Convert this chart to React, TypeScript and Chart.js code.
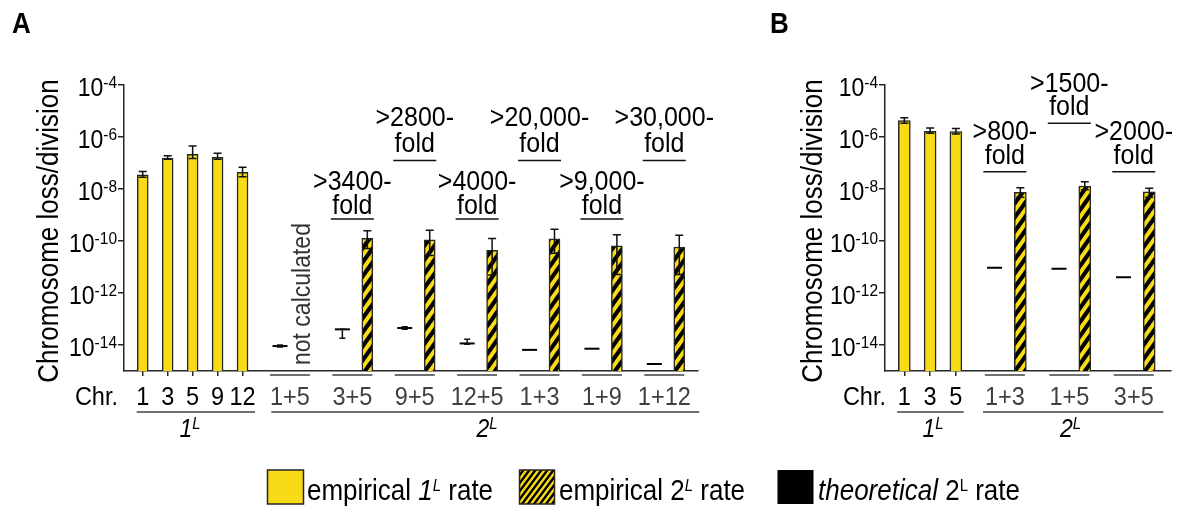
import React, { useEffect, useRef } from 'react';
import { Chart, registerables } from 'chart.js';
Chart.register(...registerables);

const FONT = '"Liberation Sans", Arial, Helvetica, sans-serif';
const YELLOW = '#F8DA17';
const AXIS = '#262626';
const GREY = '#404040';
const SY = 1.1; // vertical stretch of lettering

// ---------- y axis ----------
const yExps = [-4, -6, -8, -10, -12, -14];

// ---------- Panel A data ----------
const chrA = ['1', '3', '5', '9', '12'];
const rateA1L = [3.5e-8, 1.55e-7, 2.15e-7, 1.65e-7, 4.4e-8];
const loA1L = [2.8e-8, 1.38e-7, 1.48e-7, 1.38e-7, 2.95e-8];
const hiA1L = [4.7e-8, 1.9e-7, 4.5e-7, 2.35e-7, 6.8e-8];

const pairsA = ['1+5', '3+5', '9+5', '12+5', '1+3', '1+9', '1+12'];
const empA2L = [null, 1.26e-10, 1.12e-10, 4.4e-11, 1.2e-10, 6.5e-11, 5.9e-11];
const empA2LHi = [null, 2.5e-10, 2.6e-10, 1.26e-10, 2.8e-10, 1.74e-10, 1.66e-10];
const empA2LLo = [null, 5.2e-11, 2.75e-11, 4.9e-12, 3.4e-11, 5.2e-12, 5.2e-12];
const theoA2L = [9.1e-15, 4.0e-14, 4.5e-14, 1.15e-14, 6.5e-15, 7.2e-15, 1.86e-15];
const theoA2LLo = [8.3e-15, 1.8e-14, 4.0e-14, 1.07e-14, 6.5e-15, 7.2e-15, 1.86e-15];
const theoA2LHi = [1.0e-14, 4.0e-14, 5.0e-14, 1.66e-14, 6.5e-15, 7.2e-15, 1.86e-15];
const foldA = [null, '>3400-', '>2800-', '>4000-', '>20,000-', '>9,000-', '>30,000-'];
const foldLvA = ['lo', 'lo', 'hi', 'lo', 'hi', 'lo', 'hi'];

// ---------- Panel B data ----------
const chrB = ['1', '3', '5'];
const rateB1L = [4.3e-6, 1.65e-6, 1.6e-6];
const loB1L = [3.4e-6, 1.4e-6, 1.3e-6];
const hiB1L = [5.5e-6, 2.2e-6, 2.1e-6];

const pairsB = ['1+3', '1+5', '3+5'];
const empB2L = [7.4e-9, 1.3e-8, 7.8e-9];
const empB2LHi = [1.12e-8, 1.9e-8, 1.07e-8];
const empB2LLo = [4.8e-9, 9.3e-9, 4.8e-9];
const theoB2L = [9.3e-12, 8.5e-12, 4.0e-12];
const theoB2LLo = [9.3e-12, 8.5e-12, 4.0e-12];
const theoB2LHi = [9.3e-12, 8.5e-12, 4.0e-12];
const foldB = ['>800-', '>1500-', '>2000-'];
const foldLvB = ['lo', 'hi', 'lo'];

type Spec = any;

const specA: Spec = {
  letter: 'A', letterX: 12,
  chr: chrA, rate: rateA1L, lo: loA1L, hi: hiA1L,
  pairs: pairsA, emp: empA2L, empLo: empA2LLo, empHi: empA2LHi,
  theo: theoA2L, theoLo: theoA2LLo, theoHi: theoA2LHi,
  folds: foldA, foldLv: foldLvA,
  anno: { lo: [190, 213.5, 219], hi: [126, 151.5, 160.5] },
  g0: 11, gap: 5, xMin: -1.5, xMax: 44.5,
  pad: { left: 118, right: 482, top: 85, bottom: 130 },
  barW: 11, titleX: 58, chrRight: 118,
  u1L: [-0.48, 9.0], u2L: [10.3, 44.6], lab1L: 3.8, lab2L: 27.6,
  notCalc: 0, legend: true,
};

const specB: Spec = {
  letter: 'B', letterX: 10,
  chr: chrB, rate: rateB1L, lo: loB1L, hi: hiB1L,
  pairs: pairsB, emp: empB2L, empLo: empB2LLo, empHi: empB2LHi,
  theo: theoB2L, theoLo: theoB2LLo, theoHi: theoB2LHi,
  folds: foldB, foldLv: foldLvB,
  anno: { lo: [140, 164, 171.7], hi: [91.7, 115, 123.3] },
  g0: 7, gap: 5, xMin: -1.5, xMax: 20.65,
  pad: { left: 119, right: 7, top: 85, bottom: 130 },
  barW: 12, titleX: 61.7, chrRight: 126,
  u1L: [-0.56, 4.6], u2L: [6.1, 20.1], lab1L: 2.23, lab2L: 12.9,
  notCalc: -1, legend: false,
};

const slot1L = (i: number) => 2 * i;
const slotTheo = (s: Spec, j: number) => s.g0 + s.gap * j;
const slotEmp = (s: Spec, j: number) => slotTheo(s, j) + 2;
const slotMid = (s: Spec, j: number) => slotTheo(s, j) + 0.8;

function makeHatch(w: number, h: number, lw: number) {
  const c = document.createElement('canvas');
  c.width = w; c.height = h;
  const g = c.getContext('2d')!;
  g.fillStyle = YELLOW; g.fillRect(0, 0, w, h);
  g.strokeStyle = '#000'; g.lineWidth = lw;
  for (let n = -1; n <= 3; n++) {
    g.beginPath();
    g.moveTo(-w, n * h + h);
    g.lineTo(2 * w, n * h - 2 * h);
    g.stroke();
  }
  return c;
}

type Part = { t: string; f: string; dy?: number; c?: string };
function drawParts(ctx: CanvasRenderingContext2D, parts: Part[], x: number, y: number, align: 'left' | 'right' | 'center') {
  let total = 0;
  const ws = parts.map((p) => { ctx.font = p.f; const w = ctx.measureText(p.t).width; total += w; return w; });
  let cx = align === 'left' ? x : align === 'right' ? x - total : x - total / 2;
  ctx.textAlign = 'left';
  ctx.textBaseline = 'alphabetic';
  parts.forEach((p, i) => {
    ctx.font = p.f;
    if (p.c) ctx.fillStyle = p.c;
    ctx.save();
    ctx.translate(cx, y + (p.dy || 0));
    ctx.scale(1, SY);
    ctx.fillText(p.t, 0, 0);
    ctx.restore();
    cx += ws[i];
  });
}

function rotText(ctx: CanvasRenderingContext2D, t: string, f: string, x: number, y: number, align: CanvasTextAlign, color: string) {
  ctx.save();
  ctx.translate(x, y);
  ctx.rotate(-Math.PI / 2);
  ctx.scale(1, SY);
  ctx.font = f;
  ctx.fillStyle = color;
  ctx.textAlign = align;
  ctx.textBaseline = 'alphabetic';
  ctx.fillText(t, 0, 0);
  ctx.restore();
}

function hline(ctx: CanvasRenderingContext2D, x1: number, x2: number, y: number, color: string) {
  ctx.strokeStyle = color; ctx.lineWidth = 1.5;
  ctx.beginPath(); ctx.moveTo(x1, y); ctx.lineTo(x2, y); ctx.stroke();
}

function errBar(ctx: CanvasRenderingContext2D, x: number, y1: number, y2: number, half: number) {
  ctx.strokeStyle = '#111'; ctx.lineWidth = 1.5;
  ctx.beginPath();
  ctx.moveTo(x, y1); ctx.lineTo(x, y2);
  ctx.moveTo(x - half, y1); ctx.lineTo(x + half, y1);
  ctx.moveTo(x - half, y2); ctx.lineTo(x + half, y2);
  ctx.stroke();
}

function drawErrors(chart: any, s: Spec) {
  const ctx: CanvasRenderingContext2D = chart.ctx;
  const xs = chart.scales.x, ys = chart.scales.y;
  ctx.save();
  s.chr.forEach((_: string, i: number) => {
    errBar(ctx, xs.getPixelForValue(slot1L(i)), ys.getPixelForValue(s.hi[i]), ys.getPixelForValue(s.lo[i]), 4);
  });
  s.pairs.forEach((_: string, j: number) => {
    if (s.emp[j] != null) {
      errBar(ctx, xs.getPixelForValue(slotEmp(s, j)), ys.getPixelForValue(s.empHi[j]), ys.getPixelForValue(s.empLo[j]), 4);
    }
    if (s.theoHi[j] !== s.theoLo[j]) {
      errBar(ctx, xs.getPixelForValue(slotTheo(s, j)), ys.getPixelForValue(s.theoHi[j]), ys.getPixelForValue(s.theoLo[j]), 3);
    }
  });
  ctx.restore();
}

function drawPanel(chart: any, s: Spec) {
  const ctx: CanvasRenderingContext2D = chart.ctx;
  const xs = chart.scales.x, ys = chart.scales.y;
  const ca = chart.chartArea;
  ctx.save();
  ctx.fillStyle = '#000';
  // panel letter
  drawParts(ctx, [{ t: s.letter, f: `bold 26px ${FONT}` }], s.letterX, 33, 'left');
  // y tick labels
  yExps.forEach((e) => {
    const y = ys.getPixelForValue(Math.pow(10, e));
    drawParts(ctx, [
      { t: '10', f: `23px ${FONT}`, dy: 10.5 },
      { t: String(e), f: `15.5px ${FONT}`, dy: 3 },
    ], ca.left - 7, y, 'right');
  });
  // y title
  rotText(ctx, 'Chromosome loss/division', `26px ${FONT}`, s.titleX, 231, 'center', '#000');

  const base = ca.bottom;
  // Chr. label
  drawParts(ctx, [{ t: 'Chr.', f: `23.5px ${FONT}`, c: '#000' }], s.chrRight, base + 34, 'right');
  // 1L chromosome labels
  s.chr.forEach((c: string, i: number) => {
    drawParts(ctx, [{ t: c, f: `23.5px ${FONT}`, c: '#000' }], xs.getPixelForValue(slot1L(i)), base + 34, 'center');
  });
  hline(ctx, xs.getPixelForValue(s.u1L[0]), xs.getPixelForValue(s.u1L[1]), base + 41, GREY);
  drawParts(ctx, [
    { t: '1', f: `italic 23px ${FONT}`, c: '#000' },
    { t: 'L', f: `italic 15px ${FONT}`, dy: -8 },
  ], xs.getPixelForValue(s.lab1L), base + 66, 'center');

  // 2L labels
  s.pairs.forEach((p: string, j: number) => {
    const cx = xs.getPixelForValue(slotMid(s, j));
    hline(ctx, cx - 20, cx + 20, base + 4, GREY);
    drawParts(ctx, [{ t: p, f: `23.5px ${FONT}`, c: GREY }], cx, base + 34, 'center');
  });
  hline(ctx, xs.getPixelForValue(s.u2L[0]), xs.getPixelForValue(s.u2L[1]), base + 41, GREY);
  drawParts(ctx, [
    { t: '2', f: `italic 23px ${FONT}`, c: '#000' },
    { t: 'L', f: `italic 15px ${FONT}`, dy: -8 },
  ], xs.getPixelForValue(s.lab2L), base + 66, 'center');

  // fold annotations
  s.folds.forEach((f: string | null, j: number) => {
    if (!f) return;
    const cx = xs.getPixelForValue(slotMid(s, j));
    const lv = s.anno[s.foldLv[j]];
    drawParts(ctx, [{ t: f, f: `25px ${FONT}`, c: '#000' }], cx, lv[0], 'center');
    drawParts(ctx, [{ t: 'fold', f: `25px ${FONT}`, c: '#000' }], cx, lv[1], 'center');
    hline(ctx, cx - 21.5, cx + 21.5, lv[2], '#111');
  });

  // not calculated
  if (s.notCalc >= 0) {
    const x = xs.getPixelForValue(slotEmp(s, s.notCalc)) + 5;
    rotText(ctx, 'not calculated', `23px ${FONT}`, x, base - 6, 'left', '#333');
  }

  // legend (full-width canvas only)
  if (s.legend) {
    const ly = 470, lh = 34, lw = 36, tb = 500;
    const lf = `26px ${FONT}`, lfi = `italic 26px ${FONT}`, sf = `15px ${FONT}`, sfi = `italic 15px ${FONT}`;
    // item 1
    ctx.fillStyle = YELLOW; ctx.fillRect(267.5, ly, lw, lh);
    ctx.strokeStyle = AXIS; ctx.lineWidth = 1.5; ctx.strokeRect(267.5, ly, lw, lh);
    ctx.fillStyle = '#000';
    drawParts(ctx, [
      { t: 'empirical ', f: lf }, { t: '1', f: lfi }, { t: 'L', f: sfi, dy: -9 }, { t: ' rate', f: lf },
    ], 307, tb, 'left');
    // item 2
    const pat = ctx.createPattern(makeHatch(6, 8, 2.4), 'repeat')!;
    ctx.fillStyle = pat; ctx.fillRect(519.5, ly, 35, lh);
    ctx.strokeStyle = AXIS; ctx.strokeRect(519.5, ly, 35, lh);
    ctx.fillStyle = '#000';
    drawParts(ctx, [
      { t: 'empirical 2', f: lf }, { t: 'L', f: sfi, dy: -9 }, { t: ' rate', f: lf },
    ], 559, tb, 'left');
    // item 3
    ctx.fillStyle = '#000'; ctx.fillRect(777.5, ly, lw, lh);
    drawParts(ctx, [
      { t: 'theoretical', f: lfi }, { t: ' 2', f: lf }, { t: 'L', f: sf, dy: -9 }, { t: ' rate', f: lf },
    ], 818, tb, 'left');
  }
  ctx.restore();
}

function buildConfig(s: Spec): any {
  const hatch = makeHatch(10, 14, 4.2);
  const tmp = document.createElement('canvas').getContext('2d')!;
  const pattern = tmp.createPattern(hatch, 'repeat');
  const gridOpt = (len: number) => ({
    display: true, drawOnChartArea: false, drawTicks: true, tickLength: len,
    color: AXIS, lineWidth: 1.5, offset: false,
  });
  return {
    type: 'bar',
    data: {
      datasets: [
        {
          type: 'bar', label: 'empirical 1L rate',
          data: s.chr.map((_: string, i: number) => ({ x: slot1L(i), y: s.rate[i] })),
          backgroundColor: YELLOW, borderColor: AXIS, borderWidth: 1.5,
          barThickness: s.barW, grouped: false,
        },
        {
          type: 'bar', label: 'empirical 2L rate',
          data: s.pairs.map((_: string, j: number) => ({ x: slotEmp(s, j), y: s.emp[j] })),
          backgroundColor: pattern, borderColor: AXIS, borderWidth: 1.5,
          barThickness: s.barW, grouped: false,
        },
        {
          type: 'scatter', label: 'theoretical 2L rate',
          data: s.pairs.map((_: string, j: number) => ({ x: slotTheo(s, j), y: s.theo[j] })),
          pointStyle: 'line', pointRadius: 7.5, pointBorderWidth: 2,
          pointBorderColor: '#000', borderColor: '#000', showLine: false,
        },
      ],
    },
    options: {
      responsive: false, animation: false, devicePixelRatio: 1,
      layout: { padding: s.pad },
      events: [],
      plugins: { legend: { display: false }, tooltip: { enabled: false } },
      scales: {
        x: {
          type: 'linear', min: s.xMin, max: s.xMax, offset: false,
          afterBuildTicks: (sc: any) => { sc.ticks = s.chr.map((_: string, i: number) => ({ value: slot1L(i) })); },
          ticks: { display: false },
          grid: gridOpt(5),
          border: { display: true, color: AXIS, width: 1.5 },
        },
        y: {
          type: 'logarithmic', min: 1e-15, max: 1e-4,
          afterBuildTicks: (sc: any) => { sc.ticks = yExps.map((e) => ({ value: Math.pow(10, e) })); },
          ticks: { display: false },
          grid: gridOpt(6),
          border: { display: true, color: AXIS, width: 1.5 },
        },
      },
    },
    plugins: [{
      id: 'panelDecor',
      afterDatasetsDraw: (chart: any) => drawErrors(chart, s),
      afterDraw: (chart: any) => drawPanel(chart, s),
    }],
  };
}

export default function App() {
  const refA = useRef<HTMLCanvasElement>(null);
  const refB = useRef<HTMLCanvasElement>(null);
  useEffect(() => {
    const a = new Chart(refA.current!, buildConfig(specA));
    const b = new Chart(refB.current!, buildConfig(specB));
    return () => { a.destroy(); b.destroy(); };
  }, []);
  return (
    <div style={{ position: 'absolute', left: 0, top: 0, width: 1180, height: 506, background: '#fff', overflow: 'hidden' }}>
      <canvas ref={refA} width={1180} height={506} style={{ position: 'absolute', left: 0, top: 0 }} />
      <canvas ref={refB} width={420} height={506} style={{ position: 'absolute', left: 760, top: 0 }} />
    </div>
  );
}
